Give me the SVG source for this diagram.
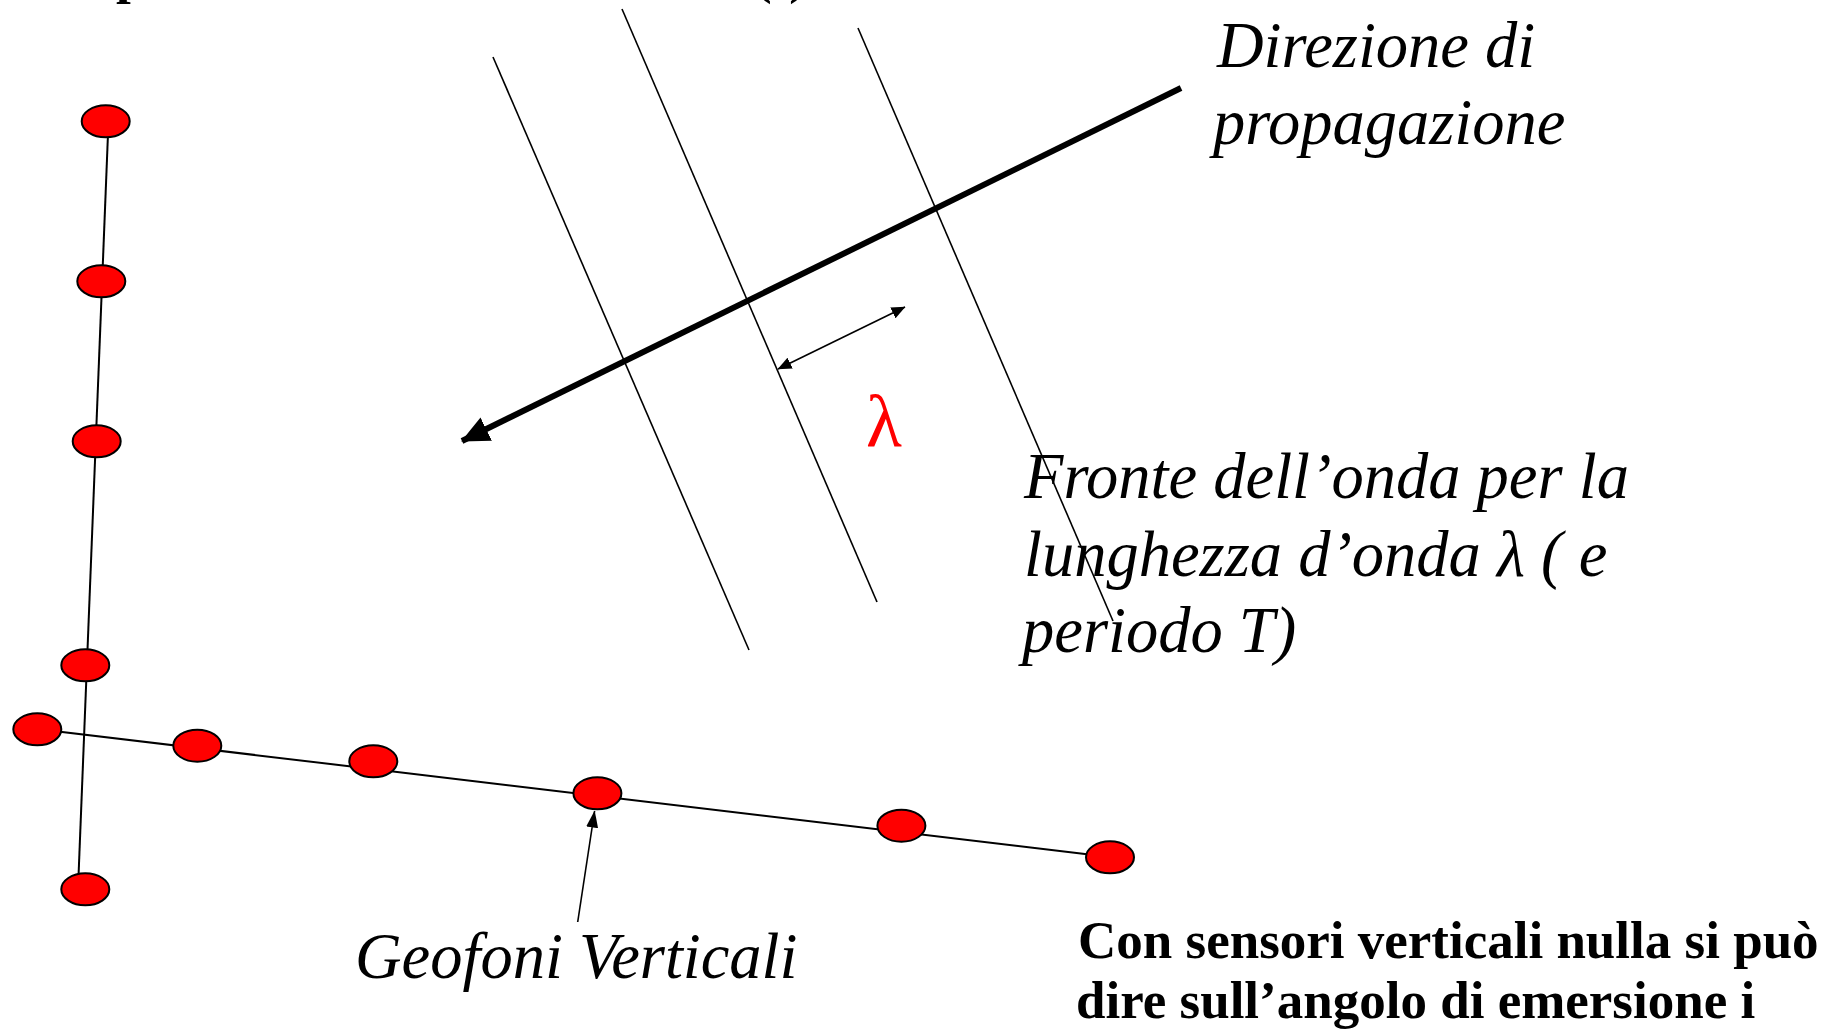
<svg xmlns="http://www.w3.org/2000/svg" width="1836" height="1034" viewBox="0 0 1836 1034">
<style>
.bg{fill:#ffffff}
.thin{stroke:#000;stroke-width:1.6;fill:none}
.cable{stroke:#000;stroke-width:2;fill:none}
.geo{fill:#ff0000;stroke:#000;stroke-width:2}
.it{font-family:"Liberation Serif","Times New Roman",serif;font-style:italic;font-size:64.5px;fill:#000}
.bd{font-family:"Liberation Serif","Times New Roman",serif;font-weight:bold;font-size:53px;fill:#000}
.lam{font-family:"Liberation Serif","Times New Roman",serif;font-size:74px;fill:#ff0000}
</style>
<defs>
<marker id="bigHead" markerUnits="userSpaceOnUse" viewBox="0 0 28 26" refX="27" refY="13" markerWidth="28" markerHeight="26" orient="auto">
<path d="M0,0 L28,13 L0,26 Z" fill="#000"/>
</marker>
<marker id="smallHead" markerUnits="userSpaceOnUse" viewBox="0 0 14 12" refX="13.5" refY="6" markerWidth="14" markerHeight="12" orient="auto-start-reverse">
<path d="M0,0 L14,6 L0,12 Z" fill="#000"/>
</marker>
<marker id="geoHead" markerUnits="userSpaceOnUse" viewBox="0 0 17 12" refX="16.5" refY="6" markerWidth="17" markerHeight="12" orient="auto">
<path d="M0,0 L17,6 L0,12 Z" fill="#000"/>
</marker>
</defs>
<rect class="bg" x="0" y="0" width="1836" height="1034"/>

<g id="clipped-title">
<text class="bd" x="116" y="-7">p</text>
<text class="bd" x="754" y="-7">(t)</text>
</g>

<g id="wavefronts">
<line class="thin" x1="493" y1="57" x2="749" y2="650"/>
<line class="thin" x1="622" y1="9" x2="877" y2="602"/>
<line class="thin" x1="858" y1="28" x2="1113" y2="621"/>
</g>

<g id="connectors">
<line id="cable-vertical" class="cable" x1="108.5" y1="121" x2="78" y2="889"/>
<line id="cable-horizontal" class="cable" x1="37" y1="729" x2="1110" y2="857"/>
<line id="propagation-arrow" x1="1181" y1="88" x2="462" y2="441" stroke="#000" stroke-width="6" marker-end="url(#bigHead)"/>
<line id="lambda-arrow" x1="778" y1="369" x2="905" y2="307" stroke="#000" stroke-width="1.6" marker-start="url(#smallHead)" marker-end="url(#smallHead)"/>
<line id="geofoni-arrow" x1="577.7" y1="922" x2="594.6" y2="811" stroke="#000" stroke-width="1.6" marker-end="url(#geoHead)"/>
</g>

<g id="geophones">
<g id="g-v1"><ellipse class="geo" cx="105.7" cy="121.3" rx="24" ry="16"/></g>
<g id="g-v2"><ellipse class="geo" cx="101.3" cy="281.3" rx="24" ry="16"/></g>
<g id="g-v3"><ellipse class="geo" cx="96.7" cy="441.3" rx="24" ry="16"/></g>
<g id="g-v4"><ellipse class="geo" cx="85.3" cy="665.3" rx="24" ry="16"/></g>
<g id="g-v5"><ellipse class="geo" cx="85.3" cy="889.3" rx="24" ry="16"/></g>
<g id="g-h0"><ellipse class="geo" cx="37.3" cy="729.3" rx="24" ry="16"/></g>
<g id="g-h1"><ellipse class="geo" cx="197.3" cy="745.7" rx="24" ry="16"/></g>
<g id="g-h2"><ellipse class="geo" cx="373.3" cy="761.3" rx="24" ry="16"/></g>
<g id="g-h3"><ellipse class="geo" cx="597.4" cy="793.3" rx="24" ry="16"/></g>
<g id="g-h4"><ellipse class="geo" cx="901.4" cy="825.7" rx="24" ry="16"/></g>
<g id="g-h5"><ellipse class="geo" cx="1110" cy="857.3" rx="24" ry="16"/></g>
</g>

<g id="label-direzione">
<text class="it" x="1217" y="67">Direzione di</text>
<text class="it" x="1213" y="144">propagazione</text>
</g>

<g id="label-lambda">
<text class="lam" x="866" y="446">λ</text>
</g>

<g id="label-fronte">
<text class="it" x="1024" y="498">Fronte dell’onda per la</text>
<text class="it" x="1024" y="576">lunghezza d’onda λ ( e</text>
<text class="it" x="1022" y="652">periodo T)</text>
</g>

<g id="label-geofoni">
<text class="it" x="355" y="978">Geofoni Verticali</text>
</g>

<g id="label-note">
<text class="bd" x="1078" y="958">Con sensori verticali nulla si può</text>
<text class="bd" x="1076" y="1018">dire sull’angolo di emersione i</text>
</g>
</svg>
